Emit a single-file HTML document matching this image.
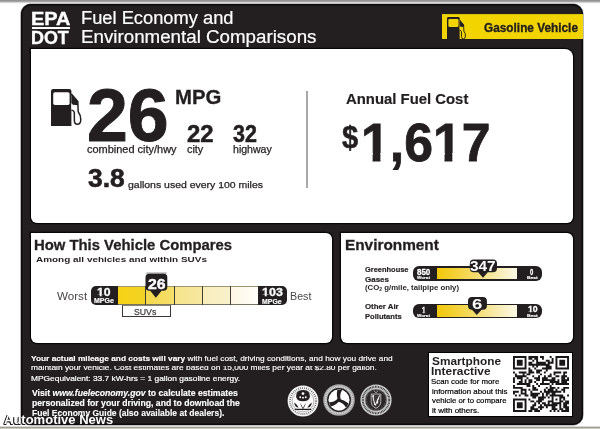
<!DOCTYPE html>
<html><head><meta charset="utf-8"><style>
*{margin:0;padding:0}
html,body{width:600px;height:429px;overflow:hidden;background:#fff}
body{position:relative;font-family:"Liberation Sans",Arial,sans-serif}
.t{position:absolute;white-space:nowrap}
.b{position:absolute}
sub{font-size:0.65em;vertical-align:-0.15em;line-height:0}
.one{display:inline-block;clip-path:polygon(0 0,100% 0,100% 0.69em,0.375em 0.69em,0.375em 100%,0.225em 100%,0.225em 0.69em,0 0.69em)}
</style></head><body>
<div class="b" style="left:0px;top:0px;width:600px;height:1px;background:#939393;"></div>
<div class="b" style="left:0px;top:1px;width:600px;height:1px;background:#a6a5a5;"></div>
<div class="b" style="left:0px;top:2px;width:600px;height:1px;background:#d8d7d7;"></div>
<div class="b" style="left:0px;top:3px;width:600px;height:1px;background:#f6f6f6;"></div>
<div class="b" style="left:0px;top:426px;width:600px;height:1px;background:#dad8d3;"></div>
<div class="b" style="left:0px;top:427px;width:600px;height:1px;background:#a09f97;"></div>
<div class="b" style="left:0px;top:428px;width:600px;height:1px;background:#cac9bf;"></div>
<div class="b" style="left:21px;top:4.2px;width:562px;height:421.3px;background:#231f20;border-radius:10px;box-shadow:inset 0 0 0 1.4px #0b0a0a,0 0 0 0.6px rgba(0,0,0,0.45);"></div>
<div class="t" style="left:30.76px;top:11.00px;font-size:17.5px;line-height:17.5px;color:#fff;font-weight:bold;-webkit-text-stroke:0.35px;transform:scaleX(1.1394);transform-origin:0 0;">EPA</div>
<div class="b" style="left:31.8px;top:27.2px;width:38.6px;height:1.6px;background:#fff;"></div>
<div class="t" style="left:31.18px;top:30.00px;font-size:17.5px;line-height:17.5px;color:#fff;font-weight:bold;-webkit-text-stroke:0.35px;transform:scaleX(1.0222);transform-origin:0 0;">DOT</div>
<div class="t" style="left:81.45px;top:10.00px;font-size:17.5px;line-height:17.5px;color:#fff;-webkit-text-stroke:0.2px;transform:scaleX(1.0451);transform-origin:0 0;">Fuel Economy and</div>
<div class="t" style="left:81.43px;top:29.00px;font-size:17.5px;line-height:17.5px;color:#fff;-webkit-text-stroke:0.2px;transform:scaleX(1.0711);transform-origin:0 0;">Environmental Comparisons</div>
<div class="b" style="left:441.9px;top:14px;width:141px;height:25px;background:#f2d500;box-shadow:inset 0 1px 0 #d9c400;"></div>
<div class="t" style="left:483.50px;top:22.00px;font-size:12.4px;line-height:12.4px;color:#231f20;font-weight:bold;-webkit-text-stroke:0.35px;transform:scaleX(0.9541);transform-origin:0 0;">Gasoline Vehicle</div>
<svg class="b" style="left:445.2px;top:14.899999999999999px;overflow:visible" width="25.08" height="27.56" viewBox="-2 -2 25.08 27.56">
<g transform="scale(0.62)">
<path d="M0 37 L0 2.2 Q0 0 2.2 0 L18.2 0 Q20.4 0 20.4 2.2 L20.4 37 Z" fill="#231f20"/>
<rect x="2.2" y="3.2" width="16.4" height="12.9" rx="1.8" fill="#f2d500"/>
<path d="M20.3 5 L26.8 12.5 L27.2 22.8 Q29.9 26.3 29.8 30.8 Q29.6 35.3 26.4 35.3 Q23.4 35.3 23.4 31.8 L23.3 23.3 Q22.9 21.7 20.4 20.9" fill="#f2d500" stroke="#231f20" stroke-width="1.5" stroke-linejoin="round"/>
<path d="M20.3 4.6 L27 12.6 L27 16.3 L21.8 15.8 L20.3 14 Z" fill="#231f20"/>
</g></svg>
<div class="b" style="left:30.7px;top:48.9px;width:542.7px;height:174.3px;background:#fff;border-radius:0 8px 6px 6px;box-shadow:0 0 0 1.3px #070707;"></div>
<svg class="b" style="left:48.8px;top:86.8px;overflow:visible" width="38.0" height="42.0" viewBox="-2 -2 38.0 42.0">
<g transform="scale(1.0)">
<path d="M0 37 L0 2.2 Q0 0 2.2 0 L18.2 0 Q20.4 0 20.4 2.2 L20.4 37 Z" fill="#231f20"/>
<rect x="2.2" y="3.2" width="16.4" height="12.9" rx="1.8" fill="#fff"/>
<path d="M20.3 5 L26.8 12.5 L27.2 22.8 Q29.9 26.3 29.8 30.8 Q29.6 35.3 26.4 35.3 Q23.4 35.3 23.4 31.8 L23.3 23.3 Q22.9 21.7 20.4 20.9" fill="#fff" stroke="#231f20" stroke-width="1.5" stroke-linejoin="round"/>
<path d="M20.3 4.6 L27 12.6 L27 16.3 L21.8 15.8 L20.3 14 Z" fill="#231f20"/>
</g></svg>
<div class="t" style="left:87.34px;top:78.00px;font-size:75px;line-height:75px;color:#231f20;font-weight:bold;-webkit-text-stroke:1.0px;transform:scaleX(0.9797);transform-origin:0 0;">26</div>
<div class="t" style="left:175.45px;top:88.00px;font-size:19.3px;line-height:19.3px;color:#231f20;font-weight:bold;-webkit-text-stroke:0.3px;transform:scaleX(1.0548);transform-origin:0 0;">MPG</div>
<div class="t" style="left:87.40px;top:145.00px;font-size:10.2px;line-height:10.2px;color:#231f20;-webkit-text-stroke:0.25px;transform:scaleX(1.0759);transform-origin:0 0;">combined city/hwy</div>
<div class="t" style="left:187.30px;top:123.00px;font-size:23px;line-height:23px;color:#231f20;font-weight:bold;-webkit-text-stroke:0.5px;transform:scaleX(1.0400);transform-origin:0 0;">22</div>
<div class="t" style="left:233.30px;top:123.00px;font-size:23px;line-height:23px;color:#231f20;font-weight:bold;-webkit-text-stroke:0.5px;transform:scaleX(0.9360);transform-origin:0 0;">32</div>
<div class="t" style="left:187.30px;top:145.00px;font-size:10.2px;line-height:10.2px;color:#231f20;-webkit-text-stroke:0.25px;transform:scaleX(1.0667);transform-origin:0 0;">city</div>
<div class="t" style="left:233.30px;top:145.00px;font-size:10.2px;line-height:10.2px;color:#231f20;-webkit-text-stroke:0.25px;transform:scaleX(1.0378);transform-origin:0 0;">highway</div>
<div class="t" style="left:87.70px;top:166.00px;font-size:25.7px;line-height:25.7px;color:#231f20;font-weight:bold;-webkit-text-stroke:0.6px;transform:scaleX(1.0286);transform-origin:0 0;">3.8</div>
<div class="t" style="left:128.00px;top:180.00px;font-size:9.6px;line-height:9.6px;color:#231f20;-webkit-text-stroke:0.25px;transform:scaleX(1.0911);transform-origin:0 0;">gallons used every 100 miles</div>
<div class="b" style="left:306px;top:91.2px;width:1.6px;height:96.5px;background:#a8a8a8;"></div>
<div class="t" style="left:345.50px;top:91.00px;font-size:15.4px;line-height:15.4px;color:#231f20;font-weight:bold;-webkit-text-stroke:0.2px;transform:scaleX(0.9669);transform-origin:0 0;">Annual Fuel Cost</div>
<div class="t" style="left:342.40px;top:122.00px;font-size:31.5px;line-height:31.5px;color:#231f20;font-weight:bold;-webkit-text-stroke:0.5px;transform:scaleX(0.9235);transform-origin:0 0;">$</div>
<div class="t" style="left:361.11px;top:116.00px;font-size:53.7px;line-height:53.7px;color:#231f20;font-weight:bold;-webkit-text-stroke:0.8px;transform:scaleX(0.9636);transform-origin:0 0;"><span class="one">1</span>,6<span class="one">1</span>7</div>
<div class="b" style="left:30.7px;top:232.8px;width:301.6px;height:110.2px;background:#fff;border-radius:0 6px 6px 6px;box-shadow:0 0 0 1.3px #070707;"></div>
<div class="t" style="left:34.31px;top:237.00px;font-size:15px;line-height:15px;color:#231f20;font-weight:bold;-webkit-text-stroke:0.3px;transform:scaleX(0.9899);transform-origin:0 0;">How This Vehicle Compares</div>
<div class="t" style="left:36.30px;top:256.00px;font-size:8.0px;line-height:8.0px;color:#231f20;font-weight:bold;transform:scaleX(1.2445);transform-origin:0 0;">Among all vehicles and within SUVs</div>
<div class="t" style="left:56.70px;top:291.00px;font-size:10.6px;line-height:10.6px;color:#4a4648;transform:scaleX(1.0963);transform-origin:0 0;">Worst</div>
<div class="t" style="left:289.99px;top:291.00px;font-size:10.6px;line-height:10.6px;color:#4a4648;transform:scaleX(1.0100);transform-origin:0 0;">Best</div>
<div class="b" style="left:117.8px;top:285.7px;width:27.7px;height:19.8px;background:linear-gradient(90deg,#f9d116,#f0d424);"></div>
<div class="b" style="left:145.5px;top:285.7px;width:28.8px;height:19.8px;background:linear-gradient(90deg,#f4d94c,#f6df6c);"></div>
<div class="b" style="left:174.3px;top:285.7px;width:28.2px;height:19.8px;background:linear-gradient(90deg,#f6e388,#f7e8a2);"></div>
<div class="b" style="left:202.5px;top:285.7px;width:27.9px;height:19.8px;background:linear-gradient(90deg,#f8edbb,#f9f1cc);"></div>
<div class="b" style="left:230.4px;top:285.7px;width:28.0px;height:19.8px;background:linear-gradient(90deg,#fcf6e4,#fffefa);"></div>
<div class="b" style="left:117.8px;top:285.7px;width:140.6px;height:19.8px;border-top:1.3px solid #9c9670;border-bottom:1.6px solid #777360;box-sizing:border-box;"></div>
<div class="b" style="left:144.9px;top:285.7px;width:1.2px;height:19.8px;background:#3f3c30;"></div>
<div class="b" style="left:173.70000000000002px;top:285.7px;width:1.2px;height:19.8px;background:#3f3c30;"></div>
<div class="b" style="left:201.9px;top:285.7px;width:1.2px;height:19.8px;background:#3f3c30;"></div>
<div class="b" style="left:229.8px;top:285.7px;width:1.2px;height:19.8px;background:#3f3c30;"></div>
<div class="b" style="left:91px;top:286.2px;width:27px;height:18.5px;background:#231f20;border-radius:5px 0 0 5px;"></div>
<div class="t" style="left:96.79px;top:287.00px;font-size:11px;line-height:11px;color:#fff;font-weight:bold;-webkit-text-stroke:0.3px;transform:scaleX(1.1091);transform-origin:0 0;"><span class="one">1</span>0</div>
<div class="t" style="left:94.00px;top:298.00px;font-size:6.3px;line-height:6.3px;color:#fff;font-weight:bold;-webkit-text-stroke:0.15px;transform:scaleX(1.1111);transform-origin:0 0;">MPGe</div>
<div class="b" style="left:258.2px;top:286px;width:28.5px;height:18.5px;background:#231f20;border-radius:0 5px 5px 0;"></div>
<div class="t" style="left:261.61px;top:287.00px;font-size:11.4px;line-height:11.4px;color:#fff;font-weight:bold;-webkit-text-stroke:0.3px;transform:scaleX(1.0944);transform-origin:0 0;"><span class="one">1</span>03</div>
<div class="t" style="left:262.10px;top:299.00px;font-size:6.3px;line-height:6.3px;color:#fff;font-weight:bold;-webkit-text-stroke:0.15px;transform:scaleX(1.1000);transform-origin:0 0;">MPGe</div>
<svg class="b" style="left:0;top:0" width="600" height="429" viewBox="0 0 600 429">
<path d="M146.3 273.1 L166.6 273.1" stroke="#666" stroke-width="0.8"/>
<path d="M149 273.8 L163.8 273.8 Q167.3 273.8 167.3 277.3 L167.3 287 Q167.3 290.8 163.5 290.8 L161.6 290.8 L155.9 297.8 L150.2 290.8 L149.3 290.8 Q145.5 290.8 145.5 287 L145.5 277.3 Q145.5 273.8 149 273.8 Z" fill="#231f20"/>
</svg>
<div class="t" style="left:147.60px;top:276.00px;font-size:15.4px;line-height:15.4px;color:#fff;font-weight:bold;-webkit-text-stroke:0.4px;transform:scaleX(1.0294);transform-origin:0 0;">26</div>
<div class="b" style="left:121.7px;top:305.3px;width:49.1px;height:12.1px;background:#fff;border:1px solid #3a3636;border-right-width:1.6px;border-bottom-width:1.6px;border-top-color:#8a8570;box-sizing:border-box;"></div>
<div class="t" style="left:134.37px;top:307.00px;font-size:9.4px;line-height:9.4px;color:#3f3c3c;-webkit-text-stroke:0.25px;transform:scaleX(0.9304);transform-origin:0 0;">SUVs</div>
<div class="b" style="left:341px;top:232.8px;width:232.4px;height:110.2px;background:#fff;border-radius:0 6px 6px 6px;box-shadow:0 0 0 1.3px #070707;"></div>
<div class="t" style="left:344.95px;top:238.00px;font-size:14.6px;line-height:14.6px;color:#231f20;font-weight:bold;-webkit-text-stroke:0.3px;transform:scaleX(1.0523);transform-origin:0 0;">Environment</div>
<div class="t" style="left:365.00px;top:266.00px;font-size:8px;line-height:8px;color:#231f20;font-weight:bold;-webkit-text-stroke:0.2px;transform:scaleX(0.9319);transform-origin:0 0;">Greenhouse</div>
<div class="t" style="left:365.00px;top:276.00px;font-size:8px;line-height:8px;color:#231f20;font-weight:bold;-webkit-text-stroke:0.2px;">Gases</div>
<div class="t" style="left:365.00px;top:284.00px;font-size:7.8px;line-height:7.8px;color:#231f20;font-weight:bold;transform:scaleX(0.9979);transform-origin:0 0;">(CO<sub>2</sub> g/mile, tailpipe only)</div>
<div class="t" style="left:365.00px;top:303.00px;font-size:8px;line-height:8px;color:#231f20;font-weight:bold;-webkit-text-stroke:0.2px;transform:scaleX(0.9794);transform-origin:0 0;">Other Air</div>
<div class="t" style="left:365.00px;top:313.00px;font-size:8px;line-height:8px;color:#231f20;font-weight:bold;-webkit-text-stroke:0.2px;transform:scaleX(0.9474);transform-origin:0 0;">Pollutants</div>
<div class="b" style="left:412.8px;top:266.1px;width:129.2px;height:14.5px;background:#231f20;border-radius:6px;"></div>
<div class="b" style="left:437px;top:267.5px;width:80px;height:11.7px;background:linear-gradient(90deg,#f1c808 0%,#f3d23a 25%,#f5de72 50%,#f8ecb0 75%,#fdf9e6 100%);"></div>
<div class="t" style="left:416.80px;top:268.00px;font-size:9.2px;line-height:9.2px;color:#fff;font-weight:bold;-webkit-text-stroke:0.3px;transform:scaleX(0.8667);transform-origin:0 0;">850</div>
<div class="t" style="left:417.00px;top:276.00px;font-size:4.3px;line-height:4.3px;color:#fff;font-weight:bold;-webkit-text-stroke:0.15px;transform:scaleX(1.0667);transform-origin:0 0;">Worst</div>
<div class="t" style="left:530.30px;top:268.00px;font-size:9.2px;line-height:9.2px;color:#fff;font-weight:bold;-webkit-text-stroke:0.3px;transform:scaleX(0.6400);transform-origin:0 0;">0</div>
<div class="t" style="left:527.20px;top:276.00px;font-size:4.3px;line-height:4.3px;color:#fff;font-weight:bold;-webkit-text-stroke:0.15px;transform:scaleX(1.1444);transform-origin:0 0;">Best</div>
<svg class="b" style="left:0;top:0" width="600" height="429" viewBox="0 0 600 429">
<path d="M473.8 259.5 L493 259.5 Q497 259.5 497 263.5 L497 268.3 Q497 272.3 493 272.3 L487.8 272.3 L483 277.8 L478.2 272.3 L473.8 272.3 Q469.8 272.3 469.8 268.3 L469.8 263.5 Q469.8 259.5 473.8 259.5 Z" fill="#231f20"/>
</svg>
<div class="t" style="left:470.33px;top:259.00px;font-size:14.4px;line-height:14.4px;color:#fff;font-weight:bold;transform:scaleX(1.0682);transform-origin:0 0;">347</div>
<div class="b" style="left:412.8px;top:304.0px;width:129.2px;height:14.300000000000011px;background:#231f20;border-radius:6px;"></div>
<div class="b" style="left:437px;top:305.4px;width:80px;height:11.50000000000001px;background:linear-gradient(90deg,#f1c808 0%,#f3d23a 25%,#f5de72 50%,#f8ecb0 75%,#fdf9e6 100%);"></div>
<div class="t" style="left:421.80px;top:306.00px;font-size:9.2px;line-height:9.2px;color:#fff;font-weight:bold;-webkit-text-stroke:0.3px;transform:scaleX(0.6750);transform-origin:0 0;"><span class="one">1</span></div>
<div class="t" style="left:417.00px;top:314.00px;font-size:4.3px;line-height:4.3px;color:#fff;font-weight:bold;-webkit-text-stroke:0.15px;transform:scaleX(1.0667);transform-origin:0 0;">Worst</div>
<div class="t" style="left:527.50px;top:305.00px;font-size:9.2px;line-height:9.2px;color:#fff;font-weight:bold;-webkit-text-stroke:0.3px;transform:scaleX(0.9500);transform-origin:0 0;"><span class="one">1</span>0</div>
<div class="t" style="left:527.20px;top:314.00px;font-size:4.3px;line-height:4.3px;color:#fff;font-weight:bold;-webkit-text-stroke:0.15px;transform:scaleX(1.1444);transform-origin:0 0;">Best</div>
<svg class="b" style="left:0;top:0" width="600" height="429" viewBox="0 0 600 429">
<path d="M472 296.9 L482.9 296.9 Q486.9 296.9 486.9 300.9 L486.9 305.8 Q486.9 309.8 482.9 309.8 L481.6 309.8 L476.8 315 L472.0 309.8 L472 309.8 Q468 309.8 468 305.8 L468 300.9 Q468 296.9 472 296.9 Z" fill="#231f20"/>
</svg>
<div class="t" style="left:472.02px;top:297.00px;font-size:14.4px;line-height:14.4px;color:#fff;font-weight:bold;transform:scaleX(1.2833);transform-origin:0 0;">6</div>
<div class="t" style="left:31.00px;top:355.00px;font-size:8px;line-height:8px;color:#fff;-webkit-text-stroke:0.15px;transform:scaleX(1.0391);transform-origin:0 0;"><b>Your actual mileage and costs will vary</b> with fuel cost, driving conditions, and how you drive and</div>
<div class="b" style="left:0;top:366.3px;width:420px;height:6px;overflow:hidden">
<div class="t" style="left:31.00px;top:-2.00px;font-size:8px;line-height:8px;color:#fff;-webkit-text-stroke:0.15px;transform:scaleX(1.0438);transform-origin:0 0;">maintain your vehicle. Cost estimates are based on 15,000 miles per year at $2.80 per gallon.</div>
</div>
<div class="t" style="left:31.00px;top:375.00px;font-size:7.6px;line-height:7.6px;color:#fff;-webkit-text-stroke:0.2px;transform:scaleX(1.1037);transform-origin:0 0;">MPGequivalent: 33.7 kW-hrs = 1 gallon gasoline energy.</div>
<div class="t" style="left:31.60px;top:389.00px;font-size:8.8px;line-height:8.8px;color:#fff;font-weight:bold;-webkit-text-stroke:0.15px;transform:scaleX(0.9828);transform-origin:0 0;">Visit <i>www.fueleconomy.gov</i> to calculate estimates</div>
<div class="t" style="left:31.60px;top:399.00px;font-size:8.8px;line-height:8.8px;color:#fff;font-weight:bold;-webkit-text-stroke:0.15px;transform:scaleX(0.9820);transform-origin:0 0;">personalized for your driving, and to download the</div>
<div class="t" style="left:31.60px;top:409.00px;font-size:8.8px;line-height:8.8px;color:#fff;font-weight:bold;-webkit-text-stroke:0.1px;transform:scaleX(0.9667);transform-origin:0 0;">Fuel Economy Guide (also available at dealers).</div>
<svg class="b" style="left:286.4px;top:384px" width="34" height="34" viewBox="-17 -17 34 34">
<circle r="15.4" fill="#f3f3f3"/>
<circle r="13.0" fill="none" stroke="#555" stroke-width="1.8" stroke-dasharray="0.7 1.3"/>
<circle r="10.6" fill="#fff"/><circle r="10.8" fill="none" stroke="#777" stroke-width="0.5"/>
<g transform="scale(1.25) translate(0 0.6)"><path d="M-5.5 -4.5 Q-5.5 -9.5 0 -9.5 Q5.5 -9.5 5.5 -4.5 Q5.5 -0.5 0 -0.5 Q-5.5 -0.5 -5.5 -4.5 Z" fill="#231f20"/>
<circle cx="-2.2" cy="-3.6" r="0.75" fill="#fff"/><circle cx="0" cy="-3.3" r="0.75" fill="#fff"/><circle cx="2.2" cy="-3.6" r="0.75" fill="#fff"/><circle cx="0" cy="-6.6" r="1.1" fill="#fff"/>
<path d="M-7 0.5 Q-5 1.5 -3.5 4.5 Q-4.5 5 -6 3.5 Q-7 2 -7 0.5 Z M7 0.5 Q5 1.5 3.5 4.5 Q4.5 5 6 3.5 Q7 2 7 0.5 Z M-2.5 1 Q-1 2.5 0 5 Q1 2.5 2.5 1 Q1 4.5 0 6 Q-1 4.5 -2.5 1 Z" fill="#231f20"/>
<rect x="-6.5" y="5.6" width="13" height="1" fill="#231f20"/></g>
</svg>
<svg class="b" style="left:322.4px;top:383.2px" width="34" height="34" viewBox="-17 -17 34 34">
<circle r="15.8" fill="#a8a8a8"/>
<circle r="13.4" fill="none" stroke="#e8e8e8" stroke-width="1.8" stroke-dasharray="0.7 1.0"/>
<circle r="11.2" fill="none" stroke="#231f20" stroke-width="1.4"/><circle r="10.4" fill="#fff"/>
<g fill="#231f20"><path d="M-0.6 1 C-2.2 -2 -2.6 -6.5 -1.6 -10.3 L3.2 -9.9 C1.2 -7 0.6 -3.5 1.9 -0.3 Z"/><path transform="rotate(120)" d="M-0.6 1 C-2.2 -2 -2.6 -6.5 -1.6 -10.3 L3.2 -9.9 C1.2 -7 0.6 -3.5 1.9 -0.3 Z"/><path transform="rotate(240)" d="M-0.6 1 C-2.2 -2 -2.6 -6.5 -1.6 -10.3 L3.2 -9.9 C1.2 -7 0.6 -3.5 1.9 -0.3 Z"/></g>
</svg>
<svg class="b" style="left:358.5px;top:383.4px" width="34" height="34" viewBox="-17 -17 34 34">
<circle r="15.6" fill="#cfcfcf"/>
<circle r="13.2" fill="none" stroke="#2a2a2a" stroke-width="2.0" stroke-dasharray="0.8 0.8"/>
<circle r="10.8" fill="#2a2627"/><circle r="11" fill="none" stroke="#999" stroke-width="0.6"/>
<circle r="9.6" fill="none" stroke="#888" stroke-width="0.8" stroke-dasharray="0.6 0.9"/>
<path d="M-4.8 -6 L4.8 -6 L4.8 1.5 Q4.8 6.5 0 8.3 Q-4.8 6.5 -4.8 1.5 Z" fill="#3a3637" stroke="#cfcfcf" stroke-width="0.8"/>
<path d="M-3.2 -3.8 L-1.2 5 M3.6 -4.6 L-0.8 5.5 M1.6 -1 L1.6 3.5 M1.6 -1 L3.2 -1" stroke="#eee" stroke-width="1.1" fill="none"/>
<circle cx="-2.8" cy="-3.9" r="1" fill="#eee"/><path d="M-2 -9 L0 -7.2 L2 -9" stroke="#bbb" stroke-width="0.8" fill="none"/>
</svg>
<div class="b" style="left:428.2px;top:352.3px;width:144.7px;height:64.4px;background:#fff;border:1.1px solid #000;box-sizing:border-box;"></div>
<div class="t" style="left:432.30px;top:356.00px;font-size:11.3px;line-height:11.3px;color:#231f20;font-weight:bold;transform:scaleX(1.0477);transform-origin:0 0;">Smartphone</div>
<div class="t" style="left:431.25px;top:366.00px;font-size:11.3px;line-height:11.3px;color:#231f20;font-weight:bold;transform:scaleX(1.0545);transform-origin:0 0;">Interactive</div>
<div class="t" style="left:431.02px;top:378.00px;font-size:8px;line-height:8px;color:#000;-webkit-text-stroke:0.2px;transform:scaleX(0.9779);transform-origin:0 0;">Scan code for more</div>
<div class="t" style="left:432.00px;top:388.00px;font-size:8px;line-height:8px;color:#000;-webkit-text-stroke:0.2px;transform:scaleX(0.9868);transform-origin:0 0;">information about this</div>
<div class="b" style="left:420px;top:397.5px;width:90px;height:6px;overflow:hidden">
<div class="t" style="left:12.00px;top:-1.00px;font-size:8px;line-height:8px;color:#000;-webkit-text-stroke:0.2px;transform:scaleX(0.9737);transform-origin:0 0;">vehicle or to compare</div>
</div>
<div class="t" style="left:432.00px;top:407.00px;font-size:8px;line-height:8px;color:#000;-webkit-text-stroke:0.2px;">it with others.</div>
<svg class="b" style="left:512.8px;top:356.4px" width="56" height="56" viewBox="0 0 56 56"><path d="M0.00 0.00h13.52v1.93h-13.52zM15.45 0.00h9.66v1.93h-9.66zM27.03 0.00h3.86v1.93h-3.86zM36.69 0.00h1.93v1.93h-1.93zM42.48 0.00h13.52v1.93h-13.52zM0.00 1.93h1.93v1.93h-1.93zM11.59 1.93h1.93v1.93h-1.93zM15.45 1.93h3.86v1.93h-3.86zM21.24 1.93h3.86v1.93h-3.86zM28.97 1.93h1.93v1.93h-1.93zM38.62 1.93h1.93v1.93h-1.93zM42.48 1.93h1.93v1.93h-1.93zM54.07 1.93h1.93v1.93h-1.93zM0.00 3.86h1.93v1.93h-1.93zM3.86 3.86h5.79v1.93h-5.79zM11.59 3.86h1.93v1.93h-1.93zM19.31 3.86h1.93v1.93h-1.93zM23.17 3.86h1.93v1.93h-1.93zM32.83 3.86h3.86v1.93h-3.86zM38.62 3.86h1.93v1.93h-1.93zM42.48 3.86h1.93v1.93h-1.93zM46.34 3.86h5.79v1.93h-5.79zM54.07 3.86h1.93v1.93h-1.93zM0.00 5.79h1.93v1.93h-1.93zM3.86 5.79h5.79v1.93h-5.79zM11.59 5.79h1.93v1.93h-1.93zM15.45 5.79h3.86v1.93h-3.86zM23.17 5.79h9.66v1.93h-9.66zM34.76 5.79h5.79v1.93h-5.79zM42.48 5.79h1.93v1.93h-1.93zM46.34 5.79h5.79v1.93h-5.79zM54.07 5.79h1.93v1.93h-1.93zM0.00 7.72h1.93v1.93h-1.93zM3.86 7.72h5.79v1.93h-5.79zM11.59 7.72h1.93v1.93h-1.93zM15.45 7.72h21.24v1.93h-21.24zM42.48 7.72h1.93v1.93h-1.93zM46.34 7.72h5.79v1.93h-5.79zM54.07 7.72h1.93v1.93h-1.93zM0.00 9.66h1.93v1.93h-1.93zM11.59 9.66h1.93v1.93h-1.93zM19.31 9.66h1.93v1.93h-1.93zM23.17 9.66h1.93v1.93h-1.93zM32.83 9.66h5.79v1.93h-5.79zM42.48 9.66h1.93v1.93h-1.93zM54.07 9.66h1.93v1.93h-1.93zM0.00 11.59h13.52v1.93h-13.52zM15.45 11.59h1.93v1.93h-1.93zM21.24 11.59h1.93v1.93h-1.93zM28.97 11.59h9.66v1.93h-9.66zM42.48 11.59h13.52v1.93h-13.52zM15.45 13.52h3.86v1.93h-3.86zM23.17 13.52h5.79v1.93h-5.79zM32.83 13.52h1.93v1.93h-1.93zM0.00 15.45h1.93v1.93h-1.93zM5.79 15.45h7.72v1.93h-7.72zM15.45 15.45h5.79v1.93h-5.79zM23.17 15.45h3.86v1.93h-3.86zM30.90 15.45h1.93v1.93h-1.93zM40.55 15.45h7.72v1.93h-7.72zM50.21 15.45h3.86v1.93h-3.86zM1.93 17.38h1.93v1.93h-1.93zM9.66 17.38h1.93v1.93h-1.93zM13.52 17.38h3.86v1.93h-3.86zM27.03 17.38h1.93v1.93h-1.93zM36.69 17.38h1.93v1.93h-1.93zM40.55 17.38h1.93v1.93h-1.93zM50.21 17.38h1.93v1.93h-1.93zM1.93 19.31h11.59v1.93h-11.59zM19.31 19.31h1.93v1.93h-1.93zM25.10 19.31h1.93v1.93h-1.93zM30.90 19.31h1.93v1.93h-1.93zM34.76 19.31h3.86v1.93h-3.86zM42.48 19.31h3.86v1.93h-3.86zM48.28 19.31h5.79v1.93h-5.79zM0.00 21.24h1.93v1.93h-1.93zM3.86 21.24h5.79v1.93h-5.79zM13.52 21.24h1.93v1.93h-1.93zM21.24 21.24h5.79v1.93h-5.79zM28.97 21.24h5.79v1.93h-5.79zM38.62 21.24h3.86v1.93h-3.86zM48.28 21.24h3.86v1.93h-3.86zM54.07 21.24h1.93v1.93h-1.93zM0.00 23.17h1.93v1.93h-1.93zM7.72 23.17h1.93v1.93h-1.93zM11.59 23.17h1.93v1.93h-1.93zM15.45 23.17h3.86v1.93h-3.86zM23.17 23.17h3.86v1.93h-3.86zM28.97 23.17h13.52v1.93h-13.52zM44.41 23.17h1.93v1.93h-1.93zM48.28 23.17h7.72v1.93h-7.72zM0.00 25.10h1.93v1.93h-1.93zM5.79 25.10h3.86v1.93h-3.86zM11.59 25.10h1.93v1.93h-1.93zM15.45 25.10h3.86v1.93h-3.86zM21.24 25.10h1.93v1.93h-1.93zM28.97 25.10h1.93v1.93h-1.93zM36.69 25.10h9.66v1.93h-9.66zM48.28 25.10h5.79v1.93h-5.79zM3.86 27.03h13.52v1.93h-13.52zM23.17 27.03h1.93v1.93h-1.93zM27.03 27.03h9.66v1.93h-9.66zM38.62 27.03h1.93v1.93h-1.93zM42.48 27.03h13.52v1.93h-13.52zM0.00 28.97h1.93v1.93h-1.93zM13.52 28.97h3.86v1.93h-3.86zM19.31 28.97h1.93v1.93h-1.93zM25.10 28.97h1.93v1.93h-1.93zM36.69 28.97h1.93v1.93h-1.93zM0.00 30.90h9.66v1.93h-9.66zM19.31 30.90h3.86v1.93h-3.86zM32.83 30.90h1.93v1.93h-1.93zM36.69 30.90h5.79v1.93h-5.79zM44.41 30.90h1.93v1.93h-1.93zM50.21 30.90h5.79v1.93h-5.79zM7.72 32.83h5.79v1.93h-5.79zM15.45 32.83h1.93v1.93h-1.93zM19.31 32.83h5.79v1.93h-5.79zM30.90 32.83h1.93v1.93h-1.93zM34.76 32.83h5.79v1.93h-5.79zM42.48 32.83h1.93v1.93h-1.93zM48.28 32.83h3.86v1.93h-3.86zM0.00 34.76h5.79v1.93h-5.79zM7.72 34.76h1.93v1.93h-1.93zM11.59 34.76h1.93v1.93h-1.93zM17.38 34.76h1.93v1.93h-1.93zM27.03 34.76h1.93v1.93h-1.93zM30.90 34.76h17.38v1.93h-17.38zM50.21 34.76h1.93v1.93h-1.93zM0.00 36.69h1.93v1.93h-1.93zM7.72 36.69h5.79v1.93h-5.79zM17.38 36.69h9.66v1.93h-9.66zM28.97 36.69h1.93v1.93h-1.93zM32.83 36.69h3.86v1.93h-3.86zM38.62 36.69h3.86v1.93h-3.86zM1.93 38.62h1.93v1.93h-1.93zM5.79 38.62h1.93v1.93h-1.93zM11.59 38.62h3.86v1.93h-3.86zM17.38 38.62h7.72v1.93h-7.72zM28.97 38.62h1.93v1.93h-1.93zM32.83 38.62h1.93v1.93h-1.93zM36.69 38.62h13.52v1.93h-13.52zM54.07 38.62h1.93v1.93h-1.93zM19.31 40.55h3.86v1.93h-3.86zM25.10 40.55h7.72v1.93h-7.72zM34.76 40.55h1.93v1.93h-1.93zM38.62 40.55h1.93v1.93h-1.93zM46.34 40.55h5.79v1.93h-5.79zM0.00 42.48h13.52v1.93h-13.52zM15.45 42.48h1.93v1.93h-1.93zM25.10 42.48h5.79v1.93h-5.79zM38.62 42.48h1.93v1.93h-1.93zM42.48 42.48h1.93v1.93h-1.93zM46.34 42.48h1.93v1.93h-1.93zM50.21 42.48h1.93v1.93h-1.93zM0.00 44.41h1.93v1.93h-1.93zM11.59 44.41h1.93v1.93h-1.93zM17.38 44.41h3.86v1.93h-3.86zM23.17 44.41h5.79v1.93h-5.79zM34.76 44.41h5.79v1.93h-5.79zM46.34 44.41h3.86v1.93h-3.86zM52.14 44.41h3.86v1.93h-3.86zM0.00 46.34h1.93v1.93h-1.93zM3.86 46.34h5.79v1.93h-5.79zM11.59 46.34h1.93v1.93h-1.93zM21.24 46.34h1.93v1.93h-1.93zM25.10 46.34h1.93v1.93h-1.93zM28.97 46.34h3.86v1.93h-3.86zM34.76 46.34h1.93v1.93h-1.93zM38.62 46.34h9.66v1.93h-9.66zM50.21 46.34h5.79v1.93h-5.79zM0.00 48.28h1.93v1.93h-1.93zM3.86 48.28h5.79v1.93h-5.79zM11.59 48.28h1.93v1.93h-1.93zM19.31 48.28h3.86v1.93h-3.86zM27.03 48.28h1.93v1.93h-1.93zM30.90 48.28h13.52v1.93h-13.52zM46.34 48.28h1.93v1.93h-1.93zM50.21 48.28h3.86v1.93h-3.86zM0.00 50.21h1.93v1.93h-1.93zM3.86 50.21h5.79v1.93h-5.79zM11.59 50.21h1.93v1.93h-1.93zM17.38 50.21h3.86v1.93h-3.86zM25.10 50.21h5.79v1.93h-5.79zM32.83 50.21h1.93v1.93h-1.93zM38.62 50.21h3.86v1.93h-3.86zM46.34 50.21h1.93v1.93h-1.93zM50.21 50.21h5.79v1.93h-5.79zM0.00 52.14h1.93v1.93h-1.93zM11.59 52.14h1.93v1.93h-1.93zM17.38 52.14h7.72v1.93h-7.72zM27.03 52.14h1.93v1.93h-1.93zM38.62 52.14h5.79v1.93h-5.79zM46.34 52.14h3.86v1.93h-3.86zM52.14 52.14h3.86v1.93h-3.86zM0.00 54.07h13.52v1.93h-13.52zM15.45 54.07h3.86v1.93h-3.86zM21.24 54.07h5.79v1.93h-5.79zM36.69 54.07h1.93v1.93h-1.93zM40.55 54.07h1.93v1.93h-1.93zM44.41 54.07h1.93v1.93h-1.93zM48.28 54.07h7.72v1.93h-7.72z" fill="#1a1718"/></svg>
<div class="t" style="left:4.40px;top:413.00px;font-size:13.3px;line-height:13.3px;color:#fff;font-weight:bold;transform:scaleX(0.9784);transform-origin:0 0;text-shadow:-1px 1px 0 #1a1a1a,-1px 0 0 #1a1a1a,0 1px 0 #1a1a1a;">Automotive News</div>
</body></html>
